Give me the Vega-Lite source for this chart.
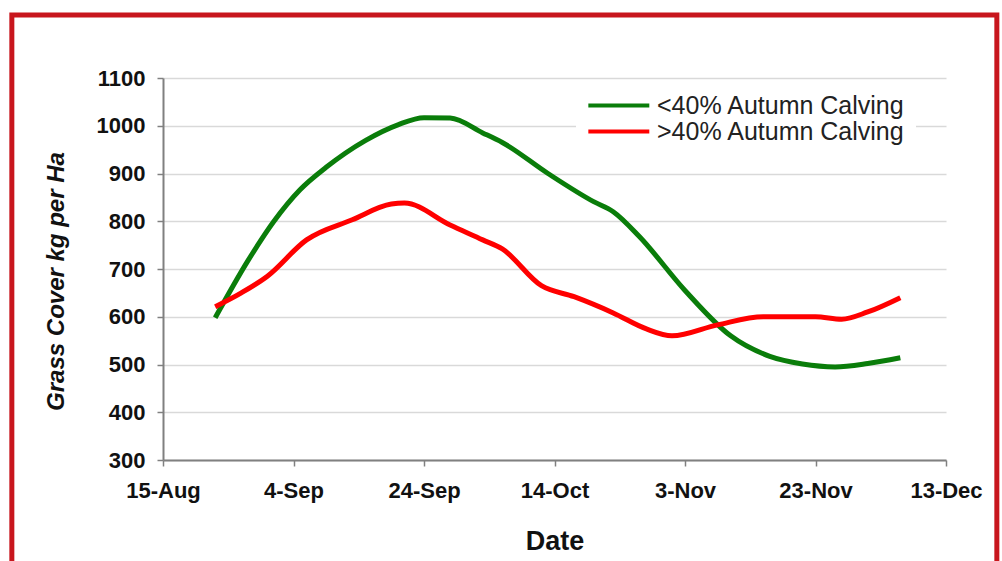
{
  "$schema": "https://vega.github.io/schema/vega-lite/v6.json",
  "autosize": "none",
  "width": 783,
  "height": 382,
  "padding": {"left": 163, "top": 78, "right": 56, "bottom": 101},
  "background": "white",
  "config": {
    "view": {"stroke": null},
    "font": "Liberation Sans",
    "axis": {
      "labelFont": "Liberation Sans",
      "labelFontSize": 22,
      "labelFontWeight": "bold",
      "labelColor": "#111111",
      "titleFont": "Liberation Sans",
      "titleColor": "#111111",
      "domainColor": "#808080",
      "domainWidth": 2,
      "tickColor": "#808080",
      "tickWidth": 1.5,
      "tickSize": 6
    }
  },
  "datasets": {
    "series": [
      {"date": "2010-08-23", "cover": 598, "group": "<40% Autumn Calving"},
      {"date": "2010-08-28", "cover": 717, "group": "<40% Autumn Calving"},
      {"date": "2010-09-01", "cover": 800, "group": "<40% Autumn Calving"},
      {"date": "2010-09-05", "cover": 866, "group": "<40% Autumn Calving"},
      {"date": "2010-09-09", "cover": 913, "group": "<40% Autumn Calving"},
      {"date": "2010-09-15", "cover": 969, "group": "<40% Autumn Calving"},
      {"date": "2010-09-20", "cover": 1002, "group": "<40% Autumn Calving"},
      {"date": "2010-09-24", "cover": 1017, "group": "<40% Autumn Calving"},
      {"date": "2010-09-28", "cover": 1016, "group": "<40% Autumn Calving"},
      {"date": "2010-10-03", "cover": 985, "group": "<40% Autumn Calving"},
      {"date": "2010-10-06", "cover": 965, "group": "<40% Autumn Calving"},
      {"date": "2010-10-13", "cover": 900, "group": "<40% Autumn Calving"},
      {"date": "2010-10-20", "cover": 841, "group": "<40% Autumn Calving"},
      {"date": "2010-10-23", "cover": 820, "group": "<40% Autumn Calving"},
      {"date": "2010-10-27", "cover": 768, "group": "<40% Autumn Calving"},
      {"date": "2010-11-03", "cover": 655, "group": "<40% Autumn Calving"},
      {"date": "2010-11-10", "cover": 560, "group": "<40% Autumn Calving"},
      {"date": "2010-11-16", "cover": 517, "group": "<40% Autumn Calving"},
      {"date": "2010-11-21", "cover": 501, "group": "<40% Autumn Calving"},
      {"date": "2010-11-26", "cover": 495, "group": "<40% Autumn Calving"},
      {"date": "2010-12-01", "cover": 502, "group": "<40% Autumn Calving"},
      {"date": "2010-12-06", "cover": 514, "group": "<40% Autumn Calving"},
      {"date": "2010-08-23", "cover": 621, "group": ">40% Autumn Calving"},
      {"date": "2010-08-27", "cover": 650, "group": ">40% Autumn Calving"},
      {"date": "2010-08-31", "cover": 685, "group": ">40% Autumn Calving"},
      {"date": "2010-09-06", "cover": 761, "group": ">40% Autumn Calving"},
      {"date": "2010-09-13", "cover": 803, "group": ">40% Autumn Calving"},
      {"date": "2010-09-19", "cover": 836, "group": ">40% Autumn Calving"},
      {"date": "2010-09-21", "cover": 838, "group": ">40% Autumn Calving"},
      {"date": "2010-09-28", "cover": 792, "group": ">40% Autumn Calving"},
      {"date": "2010-10-03", "cover": 761, "group": ">40% Autumn Calving"},
      {"date": "2010-10-06", "cover": 742, "group": ">40% Autumn Calving"},
      {"date": "2010-10-12", "cover": 665, "group": ">40% Autumn Calving"},
      {"date": "2010-10-17", "cover": 642, "group": ">40% Autumn Calving"},
      {"date": "2010-10-23", "cover": 608, "group": ">40% Autumn Calving"},
      {"date": "2010-10-28", "cover": 575, "group": ">40% Autumn Calving"},
      {"date": "2010-11-01", "cover": 560, "group": ">40% Autumn Calving"},
      {"date": "2010-11-08", "cover": 583, "group": ">40% Autumn Calving"},
      {"date": "2010-11-15", "cover": 600, "group": ">40% Autumn Calving"},
      {"date": "2010-11-23", "cover": 600, "group": ">40% Autumn Calving"},
      {"date": "2010-11-27", "cover": 595, "group": ">40% Autumn Calving"},
      {"date": "2010-12-01", "cover": 610, "group": ">40% Autumn Calving"},
      {"date": "2010-12-06", "cover": 640, "group": ">40% Autumn Calving"}
    ],
    "frame": [
      {"date": "2010-07-22T20:00:00Z", "date_end": "2010-12-20T19:00:00Z", "cover": 1232, "cover_end": 59}
    ]
  },
  "encoding": {
    "x": {
      "field": "date", "type": "temporal",
      "scale": {"type": "utc", "domain": [{"year": 2010, "month": 8, "date": 15, "utc": true}, {"year": 2010, "month": 12, "date": 13, "utc": true}]},
      "axis": {
        "title": "Date",
        "titleFontSize": 27,
        "titleFontWeight": "bold",
        "titlePadding": 27,
        "labelExpr": "utcFormat(datum.value, '%-d-%b')",
        "labelFlush": false,
        "labelOverlap": false,
        "labelPadding": 14,
        "grid": false,
        "values": [
          {"year": 2010, "month": 8, "date": 15, "utc": true},
          {"year": 2010, "month": 9, "date": 4, "utc": true},
          {"year": 2010, "month": 9, "date": 24, "utc": true},
          {"year": 2010, "month": 10, "date": 14, "utc": true},
          {"year": 2010, "month": 11, "date": 3, "utc": true},
          {"year": 2010, "month": 11, "date": 23, "utc": true},
          {"year": 2010, "month": 12, "date": 13, "utc": true}
        ]
      }
    },
    "y": {
      "field": "cover", "type": "quantitative",
      "scale": {"domain": [300, 1100]},
      "axis": {
        "title": "Grass Cover kg per Ha",
        "titleFontSize": 24,
        "titleFontWeight": "bold",
        "titleFontStyle": "italic",
        "titlePadding": 28,
        "titleY": 203,
        "format": "d",
        "values": [300, 400, 500, 600, 700, 800, 900, 1000, 1100],
        "labelPadding": 12,
        "grid": true,
        "gridColor": "#d9d9d9",
        "gridWidth": 1.5
      }
    }
  },
  "layer": [
    {
      "data": {"name": "frame"},
      "mark": {"type": "rect", "fill": null, "filled": false, "stroke": "#c8161d", "strokeWidth": 5, "clip": false},
      "encoding": {
        "x2": {"field": "date_end"},
        "y2": {"field": "cover_end"}
      }
    },
    {
      "data": {"name": "series"},
      "mark": {"type": "line", "strokeWidth": 5, "interpolate": "monotone"},
      "encoding": {
        "color": {
          "field": "group", "type": "nominal",
          "scale": {"domain": ["<40% Autumn Calving", ">40% Autumn Calving"], "range": ["#0a7d0a", "#ff0000"]},
          "legend": {
            "title": null,
            "orient": "none",
            "legendX": 413,
            "legendY": 5,
            "fillColor": "white",
            "padding": 10,
            "symbolType": "M-1,0H5",
            "symbolSize": 413,
            "symbolStrokeWidth": 4,
            "labelFont": "Liberation Sans",
            "labelFontSize": 25,
            "labelColor": "#222222",
            "labelOffset": 46,
            "labelLimit": 400,
            "rowPadding": -1
          }
        }
      }
    }
  ]
}
